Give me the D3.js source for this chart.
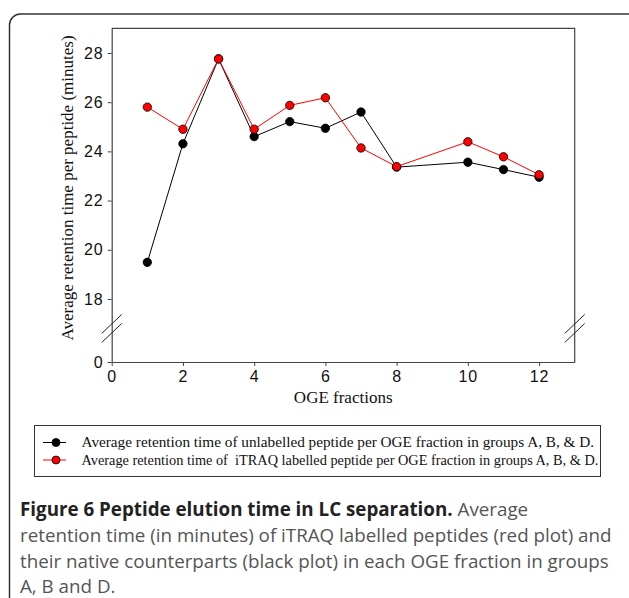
<!DOCTYPE html>
<html>
<head>
<meta charset="utf-8">
<script src="https://cdn.jsdelivr.net/npm/d3@7"></script>
<style>
  body { margin: 0; background: #fff; }
  svg { display: block; }
</style>
</head>
<body>
<div id="chart"></div>
<script>
// fractions (no point at fraction 9)
const fractions = [1, 2, 3, 4, 5, 6, 7, 8, 10, 11, 12];
const unlabelled = [19.49, 24.31, 27.76, 24.6, 25.21, 24.94, 25.6, 23.36, 23.56, 23.26, 22.95];
const itraq = [25.8, 24.9, 27.76, 24.9, 25.87, 26.18, 24.14, 23.38, 24.39, 23.78, 23.05];
const xTicks = [0, 2, 4, 6, 8, 10, 12];
const yTicks = [0, 18, 20, 22, 24, 26, 28];
const legendLabels = [
    "Average retention time of unlabelled peptide per OGE fraction in groups A, B, & D.",
    "Average retention time of  iTRAQ labelled peptide per OGE fraction in groups A, B, & D."
];
const captionBold = "Figure 6 Peptide elution time in LC separation.";
const captionLines = [
    " Average",
    "retention time (in minutes) of iTRAQ labelled peptides (red plot) and",
    "their native counterparts (black plot) in each OGE fraction in groups",
    "A, B and D."
];

const W = 629, H = 598;
const serif = "'Liberation Serif', 'Times New Roman', serif";
const sans = "'Liberation Sans', Arial, sans-serif";

let svg = d3.select("#chart")
    .append("svg")
    .attr("width", W)
    .attr("height", H);

// card border
svg.append("rect")
    .attr("x", 9.5).attr("y", 14)
    .attr("width", 640).attr("height", 620)
    .attr("rx", 11)
    .attr("fill", "none")
    .attr("stroke", "#333")
    .attr("stroke-width", 1.5);

let x = d3.scaleLinear().domain([0, 13]).range([111.7, 574.7]);
// broken axis: 0 sits just below the break, upper part runs 16.6 .. 29
let y = d3.scaleLinear().domain([0, 16.6, 29]).range([362, 333.4, 28.4]);

// frame top + right
svg.append("path")
    .attr("d", `M${x(0)},${y(29)}H${x(13)}V${y(0)}`)
    .attr("fill", "none")
    .attr("stroke", "#444")
    .attr("stroke-width", 1.2);

let xAxis = svg.append("g")
    .attr("transform", `translate(0,${y(0)})`)
    .call(d3.axisBottom(x).tickValues(xTicks).tickSize(4).tickPadding(3).tickSizeOuter(0));

let yAxis = svg.append("g")
    .attr("transform", `translate(${x(0)},0)`)
    .call(d3.axisLeft(y).tickValues(yTicks).tickSize(4).tickPadding(4).tickSizeOuter(0));

[xAxis, yAxis].forEach(a => {
    a.select(".domain").attr("stroke", "#444").attr("stroke-width", 1.2);
    a.selectAll(".tick line").attr("stroke", "#444");
    a.selectAll("text")
        .attr("fill", "#111")
        .attr("font-family", sans)
        .attr("font-size", 16)
        .attr("letter-spacing", 1);
});
xAxis.selectAll("text").attr("dy", "0.8em");

// break marks on both vertical axes
let breakY = (y(16.6) + y(17)) / 2;
[x(0), x(13)].forEach(bx => {
    [-4.5, 4.5].forEach(off => {
        svg.append("line")
            .attr("x1", bx - 10).attr("y1", breakY + off + 9.5)
            .attr("x2", bx + 10).attr("y2", breakY + off - 9.5)
            .attr("stroke", "#222")
            .attr("stroke-width", 1);
    });
});

// axis titles
svg.append("text")
    .attr("x", (x(0) + x(13)) / 2)
    .attr("y", 403)
    .attr("text-anchor", "middle")
    .style("font-family", serif)
    .style("font-size", "17px")
    .attr("fill", "#111")
    .text("OGE fractions");

svg.append("text")
    .attr("transform", "translate(73,188) rotate(-90)")
    .attr("text-anchor", "middle")
    .style("font-family", serif)
    .style("font-size", "17px")
    .attr("fill", "#111")
    .text("Average retention time per peptide (minutes)");

// series
let series = [
    { values: unlabelled, color: "#000" },
    { values: itraq, color: "#ff0000" }
];

let line = d3.line()
    .x(d => x(d[0]))
    .y(d => y(d[1]));

series.forEach(s => {
    let pts = fractions.map((f, i) => [f, s.values[i]]);
    svg.append("path")
        .datum(pts)
        .attr("d", line)
        .attr("fill", "none")
        .attr("stroke", s.color)
        .attr("stroke-width", 1);
    svg.append("g")
        .selectAll("circle")
        .data(pts)
        .join("circle")
        .attr("cx", d => x(d[0]))
        .attr("cy", d => y(d[1]))
        .attr("r", 4.2)
        .attr("fill", s.color)
        .attr("stroke", "#000")
        .attr("stroke-width", 0.8);
});

// legend
svg.append("rect")
    .attr("x", 34.5).attr("y", 425.5)
    .attr("width", 566).attr("height", 51)
    .attr("fill", "none")
    .attr("stroke", "#333")
    .attr("stroke-width", 1);

series.forEach((s, i) => {
    let ly = 442.5 + i * 17.5;
    svg.append("line")
        .attr("x1", 43).attr("x2", 66)
        .attr("y1", ly).attr("y2", ly)
        .attr("stroke", s.color)
        .attr("stroke-width", 1);
    svg.append("circle")
        .attr("cx", 56).attr("cy", ly).attr("r", 4)
        .attr("fill", s.color)
        .attr("stroke", "#000")
        .attr("stroke-width", 0.8);
    let t = svg.append("text")
        .attr("x", 81.5).attr("y", ly + 4.5)
        .attr("xml:space", "preserve")
        .style("white-space", "pre")
        .style("font-family", serif)
        .style("font-size", "13px")
        .attr("fill", "#111")
        .text(legendLabels[i]);
    // fit the row widths
    let target = i === 0 ? 513 : 517;
    let w = t.node().getComputedTextLength();
    t.style("font-size", (13 * target / w).toFixed(2) + "px");
});

// caption
let capFont = "'Open Sans', 'Noto Sans', sans-serif";
let capY = [516, 542, 568, 593];
let capLines = [];
let c1 = svg.append("text")
    .attr("x", 20).attr("y", capY[0])
    .style("font-family", capFont)
    .style("font-size", "17px")
    .attr("xml:space", "preserve")
    .style("white-space", "pre");
c1.append("tspan").attr("font-weight", "bold").attr("fill", "#222").text(captionBold);
c1.append("tspan").attr("fill", "#555").text(captionLines[0]);
capLines.push(c1);

captionLines.slice(1).forEach((l, i) => {
    capLines.push(svg.append("text")
        .attr("x", 20).attr("y", capY[i + 1])
        .style("font-family", capFont)
        .style("font-size", "17px")
        .attr("fill", "#555")
        .text(l));
});
// size the caption so the second line spans the width seen in the figure
let capW = capLines[1].node().getComputedTextLength();
let capSize = (17 * 592 / capW).toFixed(2) + "px";
capLines.forEach(t => t.style("font-size", capSize));
</script>
</body>
</html>
